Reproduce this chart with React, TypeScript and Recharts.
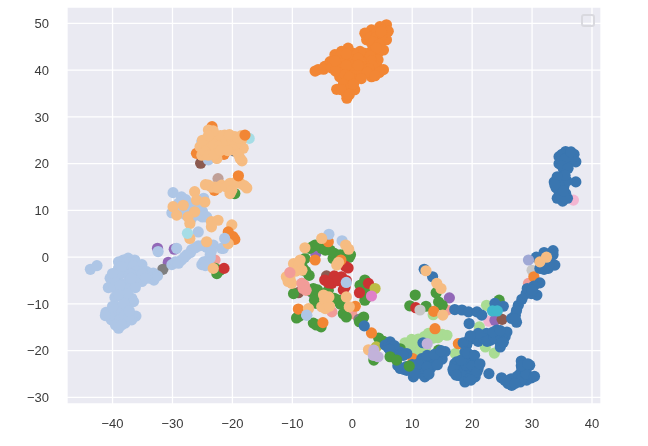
import { ScatterChart, Scatter, XAxis, YAxis, CartesianGrid } from 'recharts';

type Pt = [number, number];

const xTicks = [-40, -30, -20, -10, 0, 10, 20, 30, 40];
const yTicks = [-30, -20, -10, 0, 10, 20, 30, 40, 50];

const salmon: Pt[] = [[-22.9, -0.6], [-10.4, -3.3], [-8.4, -5.6], [-8.2, -6.7], [-3.4, -11.7], [-1.8, -10.1], [-0.1, -12.1], [15.8, -11.3], [29.4, -5.6]];
const lightPink: Pt[] = [[36.9, 12.2], [22.8, -13.7]];
const paleCyan: Pt[] = [[-17.2, 25.4]];
const lightGreen: Pt[] = [[13.5, -12.3], [9.9, -17.6], [8.8, -18.3], [11, -18.8], [10.2, -19.5], [12.7, -16.3], [13.8, -16], [14.6, -16.7], [15.8, -16.7], [13, -17], [17.2, -20.6], [10.8, -20.3], [21.2, -14.9], [22.4, -10.3], [22.2, -19.2], [23.7, -20.5], [9.5, -18.8], [11, -17.5], [12, -17], [13.5, -17.3], [15, -16.5], [11.5, -19.2], [9.8, -20], [10, -18.3], [11.3, -20.2], [12.2, -19.5], [14.3, -17.2]];
const purple: Pt[] = [[-32.5, 1.9], [-29.7, 1.7], [-30.7, -1.1], [-6.1, 0.8], [-6.5, -7.8], [16.2, -8.7], [23.8, -13.5]];
const brown: Pt[] = [[-25.3, 20.1], [-9, -7.6], [-4.3, -4], [25, -13.3]];
const tan: Pt[] = [[-22.4, 16.8]];
const gray: Pt[] = [[-19.7, 22.7], [-31.6, -2.6], [1.1, -13.3]];
const green: Pt[] = [[-19.6, 13.6], [-22.6, -3.5], [-22.9, -2.4], [-22.1, -2.8], [-6.2, 2.6], [-5.1, 1.9], [-3.7, 1.5], [-7.1, 1.9], [-1, 0.8], [-3.2, -0.3], [-7.9, -0.3], [-7.2, -3.9], [-9.8, -7.8], [-6.5, -6.7], [-4, -7.1], [-5.4, -7.8], [-5.9, -9.9], [-2.3, -9.2], [-1.5, -12.1], [-8.8, -12.6], [-6.5, -14.1], [-5.2, -14.9], [-8.2, -2.4], [2.1, -4.9], [1.3, -6], [2.1, -9.2], [1.6, -7], [1.6, -13.5], [4.4, -17.3], [5.2, -18], [8, -19.6], [10.5, -8.1], [9.6, -10.4], [12.3, -10.5], [14, -7.6], [14.4, -9.6], [15, -10.3], [14.4, -19.9], [3.6, -22], [24.5, -9.2], [-6.7, 2.2], [-5.7, 2.5], [-4.5, 1.5], [-3, 0.8], [-2, 0.5], [-0.5, 0], [-0.3, 0.5], [-8.5, -1.2], [-7.8, -3], [-6.9, -7.3], [-5.8, -7], [-4.5, -7.8], [-6.3, -9.2], [-2, -10], [-1, -12.8], [-9.3, -13], [-6, -14.5], [-3, -8.8], [1.7, -5.8], [2.4, -6.3], [2.5, -8.5], [1.2, -13.8], [1.9, -12.8]];
const red: Pt[] = [[-21.4, -2.4], [-4.6, -4.9], [-3.2, -4.6], [-1.8, -4.2], [-3.4, -5.6], [-1.5, -5.6], [-1.2, -1.9], [-1.2, -6.4], [1.2, -7.6], [2.7, -5.6], [10.6, -10.8], [-3, -4], [-2.5, -5], [-4, -5.5], [-1, -5], [-1.5, -7], [-0.7, -2.3]];
const olive: Pt[] = [[3.8, -6.7], [4, -19.2]];
const magenta: Pt[] = [[3.2, -8.3]];
const lightGray: Pt[] = [[11.3, -11.3], [30, -2.8]];
const lightOrangeUnder: Pt[] = [[3.6, 39.7]];
const orange: Pt[] = [[5.7, 49.7], [4.6, 49.3], [3.2, 48.6], [2.1, 47.9], [2.4, 46.5], [3.2, 45.8], [5.2, 46.5], [6, 48.3], [5.7, 46.5], [5.2, 44.3], [4.3, 43.6], [3.2, 44], [4.3, 42.2], [4.1, 40.8], [5.2, 40.1], [3.2, 38.6], [1.8, 40.8], [2.1, 43.6], [1.3, 44], [0.2, 43.6], [-0.7, 44.7], [-1.8, 44], [-2.9, 43.3], [-3.7, 41.8], [-4.6, 40.8], [-5.7, 40.1], [-6.2, 39.8], [-2.3, 41.5], [-0.9, 42.2], [0.2, 42.2], [-3.2, 41.5], [-1.8, 40.1], [-0.7, 39.7], [0.4, 39.3], [1.6, 39], [-1.2, 37.9], [-2.1, 38.6], [-0.1, 37.6], [0.4, 35.8], [-0.9, 34], [-2.6, 35.9], [-1.2, 36.1], [-0.7, 35.4], [2.7, 42.2], [4, 48], [5, 48.5], [3, 47], [4, 47], [5, 47.5], [3.5, 46], [4.5, 45.5], [4, 44.8], [3, 43], [3.2, 42], [3.3, 41], [2.8, 40.3], [2.5, 39.5], [4.5, 39.5], [3.8, 38.8], [1, 42.5], [0, 41], [1, 41], [-1, 41], [-2, 43], [-1, 43.5], [-4.8, 40.2], [-3.5, 40.5], [-2.8, 39.8], [-1.2, 39], [0.5, 38], [-0.5, 38.5], [-1.5, 37], [-0.2, 36.5], [-1, 35], [-1.8, 35.8], [-2.9, 42], [1.5, 38.2], [4.8, 48.2], [-0.5, 34.8], [0.2, 37], [-23.4, 27.9], [-26, 22.2], [-21.4, 22], [-23, 14.3], [-6.2, -0.6], [-1.9, -0.6], [-9, -11.1], [0.5, -10.5], [-4.9, -14], [-4, 3.3], [13.6, -11.6], [13.8, -15.3], [17.7, -18.5], [10.1, -21.7], [3.2, -16.2], [30.3, -4.2]];
const blue: Pt[] = [[35.6, 22.6], [34.5, 21.5], [37, 22], [37.3, 20.4], [34.5, 20], [35.9, 20], [35.3, 18.6], [33.7, 16.1], [35.1, 17.2], [37.3, 16.1], [34, 14.9], [35.3, 15.1], [35.6, 13.6], [34.2, 12.6], [35.1, 12], [35.9, 12.6], [34.5, 14], [35, 22], [36, 21.5], [36.5, 21], [35.5, 21], [35, 19.5], [36, 19], [34.8, 16], [35.8, 16.3], [34.5, 15.5], [34.8, 13], [35.5, 12.7], [35.2, 14.2], [35.5, 17.5], [34.2, 17.2], [36.5, 22.5], [33.8, 15.5], [12, -2.6], [13.4, -4.2], [2, -14.7], [6.3, -18.1], [5.5, -18.8], [6.9, -19.9], [8, -20.3], [9.1, -20.6], [8.5, -21], [8, -23.8], [9.1, -24.2], [10.5, -24.5], [10.2, -25.6], [11.6, -24.9], [12.1, -25.6], [13, -23.8], [12.1, -22.4], [11.6, -21.7], [13.3, -21.7], [14.4, -20.6], [15, -21.8], [13.5, -23.1], [11.3, -23.8], [11.8, -18.3], [10, -23], [11, -22.8], [12.5, -23.5], [12.8, -25], [14.2, -22.3], [10.5, -25], [9, -23.4], [8.6, -24], [7.6, -23.2], [12.5, -21], [14.2, -23], [13.7, -20.8], [15.5, -20.2], [14.8, -20], [6, -19.3], [7, -18.9], [6.2, -19.7], [17.1, -11.2], [18.3, -11.3], [19.4, -11.7], [20.8, -11.7], [19.5, -14.2], [21.6, -12.4], [23.8, -9.9], [25.2, -10.5], [19.4, -17.8], [20.2, -17.4], [19.1, -18.8], [21.3, -17], [23, -16.7], [24.1, -15.6], [23, -17.8], [24.4, -17.8], [25.5, -17], [25.8, -16], [24.7, -19.2], [22.4, -16.3], [24.4, -16.7], [21, -18], [22, -17.4], [22.5, -18], [23.7, -17.2], [25, -17.4], [23.5, -16], [24.7, -15.7], [21, -16.3], [18.5, -18.3], [25.2, -18.2], [19.7, -16.8], [26.6, -13.1], [27.4, -13.9], [27.2, -12.4], [27.7, -10.3], [27.4, -11.4], [28.3, -9], [27.2, -13.2], [29, -7.8], [29.2, -6.7], [30.8, -8.1], [31.3, -5.5], [29.9, -7.8], [30.3, -6.2], [30, -7], [31.3, -2.4], [30.7, 0], [33.5, 1.4], [33, 0], [33.8, -1.7], [32.7, -2.4], [32, 1], [33.5, 0.5], [32.8, -1.7], [32, -2.6], [22.8, -24.9], [24.9, -25.8], [26, -27], [27.2, -26.3], [28, -24.9], [28.3, -23.8], [28.2, -22.2], [29.6, -23.1], [29.9, -25.8], [29.1, -26.3], [28, -26.7], [26.6, -27.4], [28.6, -25.6], [26.5, -26], [27.5, -25.5], [28.3, -26], [29, -24.5], [29, -25], [28.2, -23.2], [25.5, -26.4], [27.1, -27], [30.4, -25.5], [29.3, -22.8], [17.1, -22.8], [16.9, -24.5], [18, -23], [19.1, -22], [20.2, -22.4], [21, -23.8], [20.5, -25.6], [18.8, -26.7], [17.7, -25.3], [19.1, -24.6], [19.9, -21], [18.8, -20.3], [19.6, -21], [17.4, -22.4], [18.3, -24.2], [20.2, -24.2], [19.4, -25.3], [20.2, -25.6], [18, -24], [19, -23], [20, -23.3], [18.5, -25.5], [19.5, -26], [17, -23.5], [20.8, -24.5], [18.2, -22], [19.2, -20.5], [20.4, -21], [16.8, -24], [19.8, -26.3], [21.3, -22.8], [17.3, -25.2], [24, -11.2]];
const lightBlue: Pt[] = [[-43.7, -2.6], [-42.6, -1.8], [-37.4, -0.2], [-38.2, -0.6], [-36.3, -0.6], [-35.1, -1.6], [-39, -2.4], [-37.1, -2], [-35.7, -3.1], [-38, -3.4], [-33.2, -3.4], [-34.3, -3.1], [-33.1, -4.9], [-35.1, -5.2], [-40.4, -4.5], [-40.7, -6.5], [-39, -5.2], [-37.4, -5.2], [-38.5, -7], [-39.6, -8.6], [-36.8, -8.8], [-38.2, -8.8], [-37.4, -10.2], [-39.3, -10.6], [-41.1, -11.8], [-39.9, -12], [-38.5, -11.6], [-36.1, -12.6], [-36.8, -13.4], [-37.9, -14.1], [-39, -15.2], [-40.2, -13.4], [-38.8, -13.4], [-39, -1], [-38, -1.5], [-36.5, -1.8], [-36, -3], [-37, -3.6], [-39, -3.5], [-40, -3.5], [-39.5, -5.5], [-39.8, -6.5], [-38.7, -6], [-37, -6.5], [-36, -5], [-36.2, -6.5], [-37.5, -7.8], [-39, -8], [-36.5, -9.5], [-38, -10], [-40, -10.5], [-40.5, -12.5], [-38, -12.5], [-37.3, -12.8], [-39.5, -14.5], [-38.5, -14.5], [-37.2, -11.5], [-41.2, -12.5], [-35, -3.5], [-36.9, -4.5], [-33.8, -4.5], [-32.5, -4], [-38.5, -2], [-34.5, -4.5], [-32.4, 1.2], [-30.1, -1.6], [-28.5, -0.6], [-27.6, 0.5], [-26.8, 1.6], [-25.7, 2.4], [-24.3, 2.1], [-23.2, 2.6], [-23.7, 0.5], [-25.1, -1.6], [-24, -0.6], [-21.8, 1.9], [-25.7, 5.4], [-29.3, 1.9], [-29.5, -1], [-29, -1.3], [-28, 0], [-27, 1], [-26.2, 2], [-25, 2.5], [-24.8, -1], [-23.5, 1.3], [-23.7, -0.2], [-24.5, -1.8], [-29.9, 13.8], [-28.5, 12.9], [-27.4, 11.5], [-30.1, 9.5], [-29, 10], [-26.8, 8.3], [-24.3, 8.6], [-26, 10.4], [-24.8, 12.6], [-29, 11.5], [-28.5, 10.5], [-27.5, 10.5], [-26.8, 9.8], [-25.6, 9], [-25, 9.8], [-28, 9.2], [-27.8, 12.3], [-25, 8.6], [-24.8, 24], [-24, 20.8], [-25.1, 24.7], [-21.5, 1.9], [-3.9, 4.9], [-1.7, 3.5], [-7.6, -12.4], [-1, -5.4]];
const lightOrange: Pt[] = [[-24, 27.2], [-23.2, 26.5], [-21.3, 26.1], [-19.6, 25.8], [-18.5, 25], [-18.2, 23.3], [-18.7, 21.1], [-20.7, 24.3], [-22.4, 25], [-24, 25], [-25.4, 23.6], [-25.1, 21.8], [-22.6, 21.1], [-21, 23.6], [-23.2, 23.3], [-19.3, 24.5], [-24.3, 23.3], [-23, 24], [-22, 24], [-22, 26], [-21, 25], [-20, 25], [-19.5, 24], [-20, 23], [-19, 22], [-24.5, 22.5], [-24, 21.8], [-23, 22], [-22, 22.8], [-20.8, 22.8], [-23.2, 27], [-20.5, 26.2], [-18.5, 26], [-25, 25], [-19, 25.5], [-18.4, 20.6], [-24, 26], [-24, 15.4], [-22.9, 15], [-21.8, 15.4], [-20.4, 15.8], [-20.4, 13.6], [-18.7, 15.8], [-17.6, 14.8], [-23.5, 15], [-22.4, 14.8], [-21, 15], [-19.5, 16], [-24.5, 15.5], [-20.1, 14.3], [-18, 15.3], [-26.3, 14], [-26, 12.2], [-24.6, 11.8], [-29.9, 10.8], [-28.2, 11.1], [-26.3, 9.7], [-29.3, 9], [-27.4, 8.6], [-27.1, 7.2], [-23.5, 7.6], [-22.4, 7.9], [-23.5, 6.5], [-20.1, 6.9], [-27.1, 4], [-24.3, 3.3], [-23.2, -2.4], [-5.1, 4], [-7.9, 2], [-2.3, -1.1], [-1.1, 2.6], [-8.7, -0.6], [-9.8, -1.4], [-10.4, -4.6], [-8.4, -2.8], [-11, -4.2], [-4.8, -8.1], [-4.3, -9.9], [-5.1, -10.6], [-1, -8.5], [-0.5, -10.6], [-7.3, -11], [-4.6, -9.2], [-10.1, -5.6], [-8.9, -1.6], [-9.5, -3], [-10.7, -5.2], [-4.5, -11], [-3.8, -10.5], [-3.9, -8.5], [-2.6, -1.7], [-0.6, 1.7], [12.3, -2.9], [14.1, -5.6], [14.8, -6.7], [15.1, -12.4], [2.7, -19.8], [31.3, -1], [32.4, 0]];
const orangeTop: Pt[] = [[-17.9, 26.1], [-19, 17.4], [-20.7, 5.4], [-19.9, 4.4], [-19.6, 3.8]];
const lightOrangeTop: Pt[] = [[-20.7, 2.9]];
const salmonTop: Pt[] = [[-10.4, -3.3], [-8.4, -5.6], [-8.2, -6.7], [-8, -6], [-7.7, -7.1]];
const lightBlueTop: Pt[] = [[-21.3, 4], [-7.6, -12.4]];
const greenTop: Pt[] = [[6.3, -21.3], [7.4, -22], [9.5, -23.3]];
const lavender: Pt[] = [[3.6, -19.9], [4.3, -21.3], [3.5, -21], [12.5, -18.5]];
const periwinkle: Pt[] = [[29.4, -0.6]];
const cyan: Pt[] = [[23.4, -11.5], [24.2, -11.5]];
const paleCyanTop: Pt[] = [[-27.5, 5.1]];

const layers: [Pt[], string][] = [
  [salmon, '#f29c98'],
  [lightPink, '#f4b6d2'],
  [paleCyan, '#a6dde6'],
  [lightGreen, '#a9dc93'],
  [purple, '#9268b8'],
  [brown, '#8c5a50'],
  [tan, '#c0a098'],
  [gray, '#7f7f7f'],
  [green, '#4a9a3e'],
  [red, '#cc3333'],
  [olive, '#bcbd45'],
  [magenta, '#e080c8'],
  [lightGray, '#c7c7c7'],
  [lightOrangeUnder, '#f6bc82'],
  [orange, '#f28634'],
  [blue, '#3a76b0'],
  [lightBlue, '#aec6e6'],
  [lightOrange, '#f6bc82'],
  [orangeTop, '#f28634'],
  [lightOrangeTop, '#f6bc82'],
  [salmonTop, '#f29c98'],
  [lightBlueTop, '#aec6e6'],
  [greenTop, '#4a9a3e'],
  [lavender, '#c2b2da'],
  [periwinkle, '#9fa8d5'],
  [cyan, '#3fb8cc'],
  [paleCyanTop, '#a6dde6'],
];

const minus = (v: number) => String(v).replace('-', '\u2212');
const tickStyle = { fontSize: 13, fontFamily: 'Liberation Sans, Arial, sans-serif', fill: '#3a3a3a' };

const Dot = (props: any) => <circle cx={props.cx} cy={props.cy} r={5.6} fill={props.fill} />;

export default function App() {
  return (
    <div style={{ position: 'absolute', left: 0, top: 0, width: 648, height: 446, filter: 'blur(0.4px)' }}>
      <ScatterChart width={648} height={446} margin={{ top: 7, right: 47, bottom: 12, left: 17 }}>
        <CartesianGrid stroke="#ffffff" strokeWidth={1.3} fill="#eaeaf2" />
        <XAxis
          type="number"
          dataKey="x"
          domain={[-47.6, 41.5]}
          ticks={xTicks}
          height={30}
          axisLine={false}
          tickLine={false}
          tick={tickStyle}
          tickFormatter={minus}
          tickMargin={9}
          interval={0}
        />
        <YAxis
          type="number"
          dataKey="y"
          domain={[-31.4, 53.5]}
          ticks={yTicks}
          width={50}
          axisLine={false}
          tickLine={false}
          tick={tickStyle}
          tickFormatter={minus}
          tickMargin={12}
          interval={0}
        />
        {layers.map(([points, color], i) => (
          <Scatter
            key={i}
            data={points.map(([x, y]) => ({ x, y }))}
            fill={color}
            shape={Dot}
            isAnimationActive={false}
          />
        ))}
      </ScatterChart>
      <div
        style={{
          position: 'absolute',
          left: 581,
          top: 14,
          width: 10,
          height: 9,
          border: '2px solid #d9d9df',
          borderRadius: 3,
        }}
      />
    </div>
  );
}
